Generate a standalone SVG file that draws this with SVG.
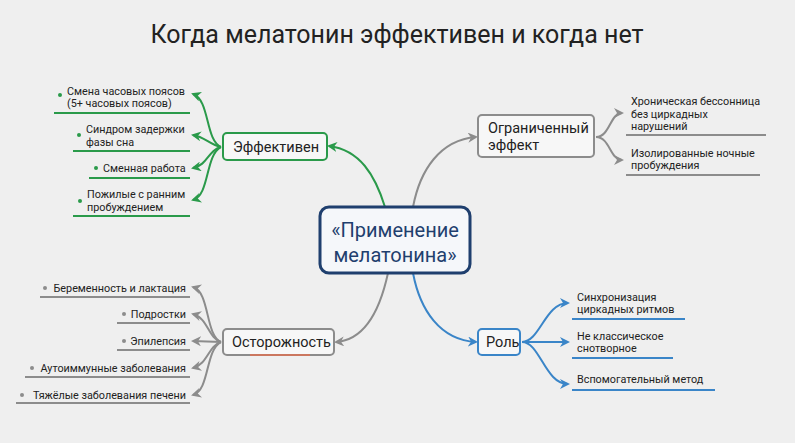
<svg xmlns="http://www.w3.org/2000/svg" width="795" height="443" viewBox="0 0 795 443">
<defs>
<marker id="ag" viewBox="0 0 10 10" refX="8" refY="5" markerWidth="5" markerHeight="5" orient="auto"><path d="M0,0L10,5L0,10L3,5z" fill="#2a9a4a"/></marker>
<marker id="ar" viewBox="0 0 10 10" refX="8" refY="5" markerWidth="5" markerHeight="5" orient="auto"><path d="M0,0L10,5L0,10L3,5z" fill="#8c8c8c"/></marker>
<marker id="ab" viewBox="0 0 10 10" refX="8" refY="5" markerWidth="5" markerHeight="5" orient="auto"><path d="M0,0L10,5L0,10L3,5z" fill="#3a85c8"/></marker>
</defs>
<style>
text{font-family:Roboto,"Liberation Sans",sans-serif;fill:#222}
.s{font-size:10.8px}
.n{font-size:14.5px}
.r{text-anchor:end}
.g{stroke:#2a9a4a;fill:none;stroke-width:2}
.y{stroke:#8c8c8c;fill:none;stroke-width:2}
.b{stroke:#3a85c8;fill:none;stroke-width:2}
.box{fill:#f7f7f7;stroke-width:2}
</style>
<rect width="795" height="443" fill="#efefef"/>
<text x="397" y="43" text-anchor="middle" style="font-size:25px" fill="#111">Когда мелатонин эффективен и когда нет</text>
<g id="connectors">
<path class="g" d="M385,207 C375,175 360,150 329,146" marker-end="url(#ag)"/>
<path class="y" d="M413,207 C420,170 440,140 476,137" marker-end="url(#ar)"/>
<path class="b" d="M413,273 C420,310 440,340 476,342" marker-end="url(#ab)"/>
<path class="y" d="M388,273 C380,310 365,340 336,342" marker-end="url(#ar)"/>
<path class="g" d="M221,147 C205,140 210,100 193,94" marker-end="url(#ag)"/>
<path class="g" d="M221,147 C210,145 205,137 193,135" marker-end="url(#ag)"/>
<path class="g" d="M221,147 C208,150 208,165 193,168" marker-end="url(#ag)"/>
<path class="g" d="M221,147 C205,155 210,195 193,200" marker-end="url(#ag)"/>
<path class="y" d="M596,137 C610,137 610,113 622,113" marker-end="url(#ar)"/>
<path class="y" d="M596,137 C610,137 610,160 622,160" marker-end="url(#ar)"/>
<path class="b" d="M522,342 C540,342 545,303 568,303" marker-end="url(#ab)"/>
<path class="b" d="M522,342 L568,342" marker-end="url(#ab)"/>
<path class="b" d="M522,342 C540,342 545,384 568,384" marker-end="url(#ab)"/>
<path class="y" d="M221,342 C205,335 210,292 193,287" marker-end="url(#ar)"/>
<path class="y" d="M221,342 C208,338 208,318 193,314" marker-end="url(#ar)"/>
<path class="y" d="M221,342 L193,341" marker-end="url(#ar)"/>
<path class="y" d="M221,342 C208,346 208,364 193,368" marker-end="url(#ar)"/>
<path class="y" d="M221,342 C205,350 210,390 193,395" marker-end="url(#ar)"/>
</g>
<g id="center">
<rect x="320" y="207" width="150" height="66" rx="9" fill="#f5f7fa" stroke="#1f3f6e" stroke-width="3"/>
<text x="395" y="237" text-anchor="middle" style="font-size:20px;fill:#1f3f6e">«Применение</text>
<text x="395" y="262" text-anchor="middle" style="font-size:20px;fill:#1f3f6e">мелатонина»</text>
</g>
<g id="effective">
<rect class="box" x="223" y="133" width="104" height="27" rx="4" stroke="#2a9a4a"/>
<text class="n" x="233" y="152">Эффективен</text>
</g>
<g id="g1"><circle cx="60" cy="95" r="2" fill="#2a9a4a"/><text class="s" x="67" y="95">Смена часовых поясов</text><text class="s" x="67" y="107">(5+ часовых поясов)</text><line x1="54" y1="113" x2="190" y2="113" class="g"/></g>
<g id="g2"><circle cx="79" cy="135" r="2" fill="#2a9a4a"/><text class="s" x="86" y="133">Синдром задержки</text><text class="s" x="86" y="146">фазы сна</text><line x1="73" y1="151" x2="190" y2="151" class="g"/></g>
<g id="g3"><circle cx="96" cy="168" r="2" fill="#2a9a4a"/><text class="s" x="103" y="172">Сменная работа</text><line x1="89" y1="178" x2="190" y2="178" class="g"/></g>
<g id="g4"><circle cx="80" cy="201" r="2" fill="#2a9a4a"/><text class="s" x="87" y="198">Пожилые с ранним</text><text class="s" x="87" y="211">пробуждением</text><line x1="73" y1="216" x2="190" y2="216" class="g"/></g>
<g id="limited">
<rect class="box" x="478" y="115" width="116" height="42" rx="4" stroke="#8c8c8c"/>
<text class="n" x="488" y="133">Ограниченный</text><text class="n" x="488" y="150">эффект</text>
</g>
<g id="l1"><text class="s" x="631" y="105">Хроническая бессонница</text><text class="s" x="631" y="118">без циркадных</text><text class="s" x="631" y="130">нарушений</text><line x1="626" y1="135" x2="766" y2="135" class="y"/></g>
<g id="l2"><text class="s" x="631" y="157">Изолированные ночные</text><text class="s" x="631" y="169">пробуждения</text><line x1="626" y1="175" x2="760" y2="175" class="y"/></g>
<g id="role">
<rect class="box" x="478" y="329" width="42" height="26" rx="4" stroke="#3a85c8"/>
<text class="n" x="486" y="347">Роль</text>
</g>
<g id="r1"><text class="s" x="577" y="301">Синхронизация</text><text class="s" x="577" y="313">циркадных ритмов</text><line x1="572" y1="319" x2="685" y2="319" class="b"/></g>
<g id="r2"><text class="s" x="577" y="340">Не классическое</text><text class="s" x="577" y="352">снотворное</text><line x1="572" y1="358" x2="673" y2="358" class="b"/></g>
<g id="r3"><text class="s" x="577" y="383">Вспомогательный метод</text><line x1="572" y1="390" x2="715" y2="390" class="b"/></g>
<g id="caution">
<rect class="box" x="223" y="329" width="111" height="26" rx="4" stroke="#8c8c8c"/>
<line x1="250" y1="355" x2="310" y2="355" stroke="#e07050" stroke-width="1.5"/>
<text class="n" x="232" y="347">Осторожность</text>
</g>
<g id="c1"><circle cx="45" cy="288" r="2" fill="#8c8c8c"/><text class="s r" x="186" y="292">Беременность и лактация</text><line x1="40" y1="297" x2="190" y2="297" class="y"/></g>
<g id="c2"><circle cx="124" cy="314" r="2" fill="#8c8c8c"/><text class="s r" x="186" y="318">Подростки</text><line x1="117" y1="323" x2="190" y2="323" class="y"/></g>
<g id="c3"><circle cx="124" cy="341" r="2" fill="#8c8c8c"/><text class="s r" x="186" y="345">Эпилепсия</text><line x1="117" y1="350" x2="190" y2="350" class="y"/></g>
<g id="c4"><circle cx="32" cy="368" r="2" fill="#8c8c8c"/><text class="s r" x="186" y="372">Аутоиммунные заболевания</text><line x1="25" y1="377" x2="190" y2="377" class="y"/></g>
<g id="c5"><circle cx="22" cy="395" r="2" fill="#8c8c8c"/><text class="s r" x="186" y="399">Тяжёлые заболевания печени</text><line x1="16" y1="403" x2="190" y2="403" class="y"/></g>
</svg>
